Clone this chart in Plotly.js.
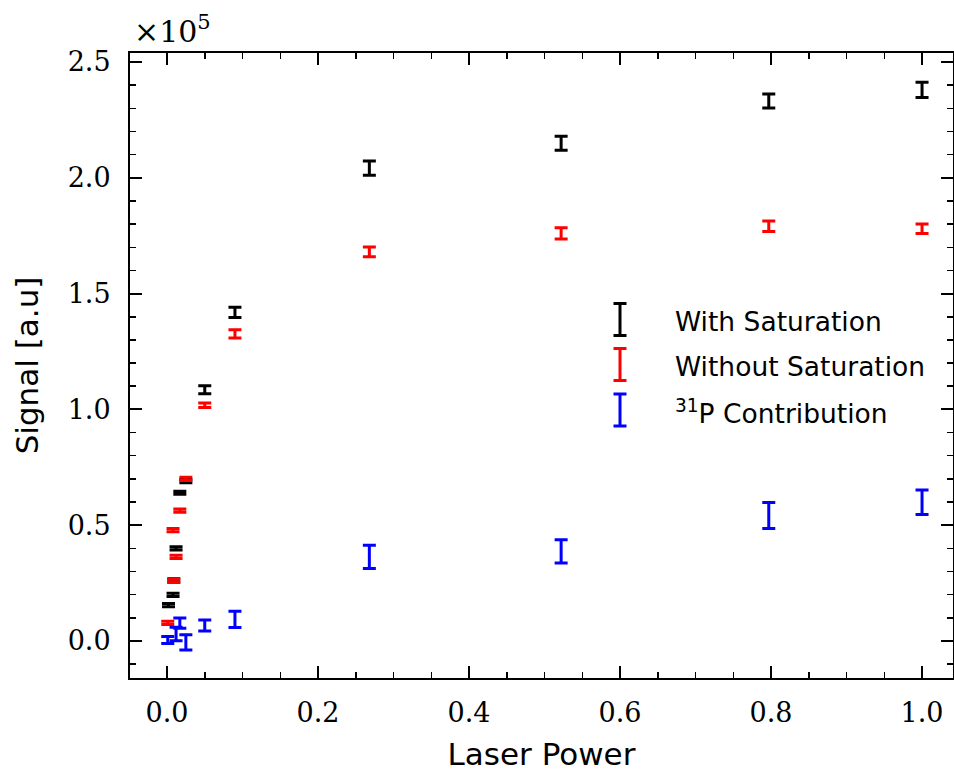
<!DOCTYPE html>
<html>
<head>
<meta charset="utf-8">
<script src="https://cdn.plot.ly/plotly-3.0.1.min.js"></script>
<style>html,body{margin:0;padding:0;background:#fff;}#chart{width:954px;height:773px;}</style>
</head>
<body>
<div id="chart"></div>
<script>
// Values; signal in units of 1e5
const satX   = [0.002, 0.008, 0.009, 0.012, 0.017, 0.025, 0.05, 0.09, 0.268, 0.522, 0.797, 1.0];
const satY   = [0.155, 0.199, 0.262, 0.400, 0.640, 0.690, 1.085, 1.419, 2.042, 2.149, 2.332, 2.380];
const satErr = [0.007, 0.007, 0.007, 0.007, 0.007, 0.007, 0.017, 0.022, 0.031, 0.030, 0.030, 0.033];

const noSatX   = [0.001, 0.008, 0.009, 0.012, 0.017, 0.025, 0.05, 0.09, 0.268, 0.522, 0.797, 1.0];
const noSatY   = [0.078, 0.479, 0.259, 0.363, 0.563, 0.700, 1.018, 1.326, 1.680, 1.760, 1.791, 1.780];
const noSatErr = [0.007, 0.007, 0.007, 0.007, 0.007, 0.007, 0.010, 0.018, 0.021, 0.024, 0.023, 0.021];

const pX   = [0.001, 0.012, 0.017, 0.025, 0.05, 0.09, 0.268, 0.522, 0.797, 1.0];
const pY   = [0.004, 0.030, 0.077, -0.006, 0.067, 0.093, 0.363, 0.387, 0.542, 0.599];
const pErr = [0.015, 0.029, 0.022, 0.033, 0.024, 0.035, 0.050, 0.050, 0.056, 0.053];

const seriesNames = ['With Saturation', 'Without Saturation', '<sup>31</sup>P Contribution'];
const seriesColors = ['#000000', '#ff0000', '#0000ff'];

const W = 954, H = 773;
const M = {l: 130, r: 1, t: 53, b: 95};
const plotW = W - M.l - M.r, plotH = H - M.t - M.b;
const px = x => (x - M.l) / plotW;
const py = y => (H - M.b - y) / plotH;

function ebTrace(x, y, e, color, name) {
  return {
    type: 'scatter', mode: 'markers', x: x, y: y, name: name, showlegend: false,
    marker: {size: 1, color: 'rgba(0,0,0,0)'},
    error_y: {type: 'data', array: e, visible: true, color: color, thickness: 3, width: 6.5},
    hoverinfo: 'x+y'
  };
}

const data = [
  ebTrace(satX, satY, satErr, seriesColors[0], seriesNames[0]),
  ebTrace(noSatX, noSatY, noSatErr, seriesColors[1], seriesNames[1]),
  ebTrace(pX, pY, pErr, seriesColors[2], seriesNames[2])
];

// custom legend (error-bar glyphs)
const shapes = [], annotations = [];
const legCx = 620, legCy = [319.5, 364.5, 410], legHalf = 16, capHalf = 6.5;
seriesNames.forEach((n, i) => {
  const c = seriesColors[i], cy = legCy[i];
  const line = {color: c, width: 3};
  shapes.push({type: 'line', xref: 'paper', yref: 'paper', x0: px(legCx), x1: px(legCx), y0: py(cy - legHalf), y1: py(cy + legHalf), line: line});
  shapes.push({type: 'line', xref: 'paper', yref: 'paper', x0: px(legCx - capHalf), x1: px(legCx + capHalf), y0: py(cy - legHalf), y1: py(cy - legHalf), line: line});
  shapes.push({type: 'line', xref: 'paper', yref: 'paper', x0: px(legCx - capHalf), x1: px(legCx + capHalf), y0: py(cy + legHalf), y1: py(cy + legHalf), line: line});
  annotations.push({xref: 'paper', yref: 'paper', x: px(673), y: py(cy + 2), xanchor: 'left', yanchor: 'middle',
    text: n, showarrow: false, font: {family: 'DejaVu Sans', size: 26.5, color: '#000'}});
});
annotations.push({xref: 'paper', yref: 'paper', x: px(132), y: py(29), xanchor: 'left', yanchor: 'middle',
  text: '×10<sup>5</sup>', showarrow: false, font: {family: 'DejaVu Serif', size: 30, color: '#000'}});

const axisCommon = {
  showgrid: false, zeroline: false, showline: true, linecolor: '#000', linewidth: 2,
  mirror: 'allticks', ticks: 'inside', ticklen: 12, tickwidth: 2, tickcolor: '#000',
  tickfont: {family: 'DejaVu Serif', size: 27, color: '#000'}
};

const layout = {
  width: W, height: H, margin: M,
  paper_bgcolor: '#fff', plot_bgcolor: '#fff', showlegend: false,
  xaxis: Object.assign({}, axisCommon, {
    range: [-0.049, 1.041], tickmode: 'linear', tick0: 0, dtick: 0.2, tickformat: '.1f',
    ticklabelstandoff: 10,
    minor: {dtick: 0.05, ticks: 'inside', ticklen: 6, tickwidth: 1.5, tickcolor: '#000'},
    title: {text: 'Laser Power', font: {family: 'DejaVu Sans', size: 31, color: '#000'}, standoff: 16}
  }),
  yaxis: Object.assign({}, axisCommon, {
    range: [-0.160, 2.539], tickmode: 'linear', tick0: 0, dtick: 0.5, tickformat: '.1f',
    ticklabelstandoff: 12,
    minor: {dtick: 0.1, ticks: 'inside', ticklen: 6, tickwidth: 1.5, tickcolor: '#000'},
    title: {text: 'Signal [a.u]', font: {family: 'DejaVu Sans', size: 31, color: '#000'}, standoff: 20}
  }),
  shapes: shapes, annotations: annotations
};

Plotly.newPlot('chart', data, layout, {displayModeBar: false, staticPlot: true});
</script>
</body>
</html>
